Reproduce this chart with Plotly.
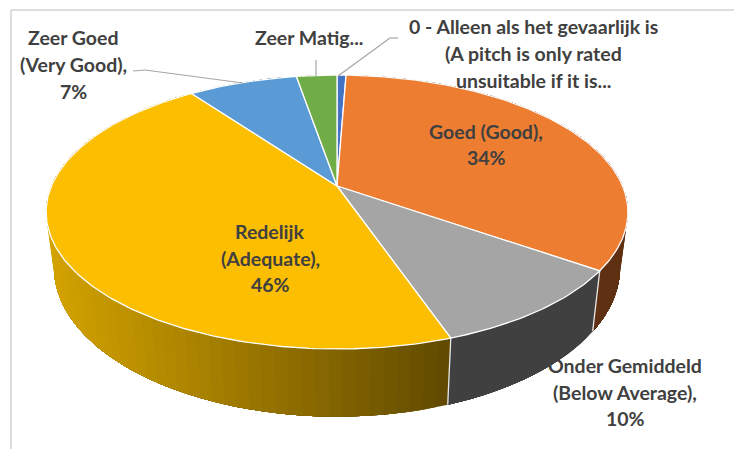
import numpy as np
import plotly.graph_objects as go

# ---- data (clockwise from 12 o'clock) ----
categories = ["0 - Alleen als het gevaarlijk is", "Goed (Good)", "Onder Gemiddeld (Below Average)",
              "Redelijk (Adequate)", "Zeer Goed (Very Good)", "Zeer Matig"]
values = [0.6, 34.1, 10.0, 45.3, 7.3, 2.7]
top_colors = ["#4472C4", "#ED7D31", "#A5A5A5", "#FBBE00", "#5B9BD5", "#70AD47"]
side_left = ["#2A4578", "#5F3011", "#404040", "#D4A300", "#375E82", "#43682B"]
side_right = ["#2A4578", "#5F3011", "#404040", "#604A00", "#375E82", "#43682B"]

labels = [
    ("Goed (Good),", 486, 131), ("34%", 486, 157),
    ("Redelijk", 270, 231), ("(Adequate),", 270, 258), ("46%", 270, 284),
    ("Onder Gemiddeld", 625, 365), ("(Below Average),", 625, 392), ("10%", 625, 418),
    ("Zeer Goed", 73, 37), ("(Very Good),", 73, 64), ("7%", 73, 91),
    ("Zeer Matig...", 309, 37),
    ("0 - Alleen als het gevaarlijk is", 533, 26), ("(A pitch is only rated", 533, 53),
    ("unsuitable if it is...", 533, 80),
]
leaders = [
    [(133, 71), (145, 70), (243, 83)],
    [(316, 60), (316, 76)],
    [(398, 38), (390, 38), (338, 76)],
]

# ---- projection of the tilted disc ----
CX, CY, A, B, K = 337, 186, 132, 285.6, 0.19
SX, SY, DY = 0.973, 1.09, 53


def top(theta):
    u, v = np.sin(theta), np.cos(theta)
    w = 1 + K * v
    return CX + B * u / w, CY - A * v / w


def bottom(theta):
    x, y = top(theta)
    return CX + SX * (x - CX), CY + DY + SY * (y - CY)


def mix(c1, c2, t):
    a = [int(c1[i:i + 2], 16) for i in (1, 3, 5)]
    b = [int(c2[i:i + 2], 16) for i in (1, 3, 5)]
    return "rgb(%d,%d,%d)" % tuple(round(p + (q - p) * t) for p, q in zip(a, b))


fig = go.Figure()
edges = np.cumsum([0] + values) / sum(values) * 2 * np.pi

# rim: each strip reaches to the end of its slice and the next one is painted over it,
# so the gradient has no seams
for i in range(len(values)):
    n = max(2, int(values[i] * 1.6))
    th = np.linspace(edges[i], edges[i + 1], n + 1)
    xa, _ = top(th)
    xmin, xmax = xa.min(), xa.max()
    for j in range(n):
        seg = th[j:]
        xt, yt = top(seg)
        xb, yb = bottom(seg)
        t = (top(th[j:j + 2])[0].mean() - xmin) / max(xmax - xmin, 1)
        col = mix(side_left[i], side_right[i], t)
        fig.add_trace(go.Scatter(
            x=np.r_[xt, xb[::-1], xt[0]], y=np.r_[yt, yb[::-1], yt[0]],
            mode="none", fill="toself", fillcolor=col,
            hoverinfo="skip", showlegend=False))

# white separators on the rim
for e in edges[:-1]:
    xt, yt = top(np.array([e]))
    xb, yb = bottom(np.array([e]))
    if np.cos(e) < 0:
        fig.add_trace(go.Scatter(x=[xt[0], xb[0]], y=[yt[0], yb[0]], mode="lines",
                                 line=dict(color="#E8E8E8", width=1.3),
                                 hoverinfo="skip", showlegend=False))

# top face
for i, name in enumerate(categories):
    th = np.linspace(edges[i], edges[i + 1], max(3, int(values[i] * 4)))
    xs, ys = top(th)
    fig.add_trace(go.Scatter(
        x=np.r_[CX, xs, CX], y=np.r_[CY, ys, CY], mode="lines", fill="toself",
        fillcolor=top_colors[i], line=dict(color="#FFFFFF", width=1.3),
        name=name, hoverinfo="name", showlegend=False))

# leader lines
shapes = []
for path in leaders:
    for p, q in zip(path[:-1], path[1:]):
        shapes.append(dict(type="line", x0=p[0], y0=p[1], x1=q[0], y1=q[1],
                           line=dict(color="#A6A6A6", width=1.2)))
# chart frame
frame = "#DDDDDD"
shapes.append(dict(type="line", x0=11, y0=10, x1=734, y1=10, line=dict(color=frame, width=2)))
shapes.append(dict(type="line", x0=11, y0=10, x1=11, y1=449, line=dict(color=frame, width=2)))

annotations = [dict(x=x, y=y, text=t, showarrow=False, xanchor="center", yanchor="middle",
                    font=dict(family="Lato", size=19.5, color="#404040", weight="bold"))
               for t, x, y in labels]

fig.update_layout(
    width=734, height=449, margin=dict(l=0, r=0, t=0, b=0), autosize=False,
    paper_bgcolor="white", plot_bgcolor="white", showlegend=False,
    xaxis=dict(range=[0, 734], visible=False, fixedrange=True),
    yaxis=dict(range=[449, 0], visible=False, fixedrange=True),
    shapes=shapes, annotations=annotations,
)
fig.write_html("out.html", post_script="document.body.style.margin='0';",
               config=dict(displayModeBar=False))
